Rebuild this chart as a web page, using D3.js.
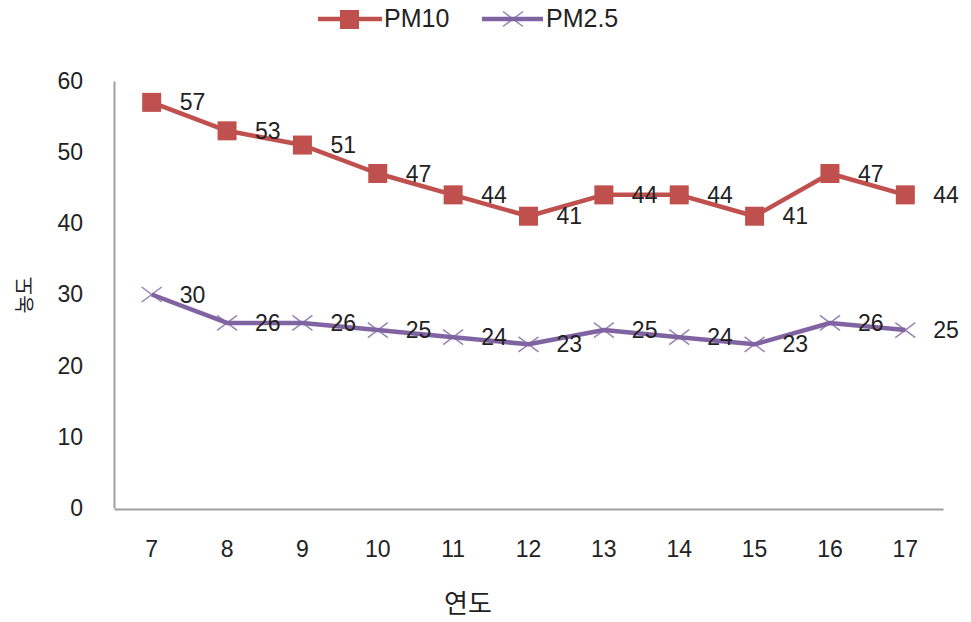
<!DOCTYPE html>
<html><head><meta charset="utf-8">
<script src="https://cdn.jsdelivr.net/npm/d3@7"></script>
<style>body{margin:0;background:#fff}</style>
</head><body>
<svg id="chart" width="971" height="622"></svg>
<script>
const years = ["7","8","9","10","11","12","13","14","15","16","17"];
const pm10 = [57,53,51,47,44,41,44,44,41,47,44];
const pm25 = [30,26,26,25,24,23,25,24,23,26,25];
const yTicks = [0,10,20,30,40,50,60];
const seriesNames = ["PM10","PM2.5"];
const colors = ["#C0504D","#8064A2"];

(function(){
const svg = d3.select("#chart");
const mLeft = 114, mRight = 943, mTop = 81, mBottom = 508;
const FONT = "Liberation Sans, Arial, sans-serif";

const x = d3.scaleBand().domain(years).range([mLeft, mRight]);
const y = d3.scaleLinear().domain([0,60]).range([mBottom, mTop]);
const cx = d => x(d) + x.bandwidth()/2;

// axes
const yAxis = svg.append("g").attr("transform",`translate(${mLeft},0)`)
  .call(d3.axisLeft(y).tickValues(yTicks).tickSize(0).tickPadding(31));
yAxis.select(".domain").attr("stroke","#a0a0a0").attr("stroke-width",2);
yAxis.selectAll("text").attr("font-family",FONT).attr("font-size",23).attr("fill","#222");

const xAxis = svg.append("g").attr("transform",`translate(0,${mBottom+1})`)
  .call(d3.axisBottom(x).tickSize(0).tickPadding(32));
xAxis.select(".domain").attr("stroke","#a0a0a0").attr("stroke-width",2);
xAxis.selectAll("text").attr("font-family",FONT).attr("font-size",23).attr("fill","#222");

// axis titles
svg.append("text").attr("x",468).attr("y",613).attr("text-anchor","middle")
  .attr("font-family","Noto Sans CJK KR, sans-serif").attr("font-size",26).attr("fill","#222").text("연도");
svg.append("text").attr("transform","translate(32,295) rotate(-90)").attr("text-anchor","middle")
  .attr("font-family","Noto Sans CJK KR, sans-serif").attr("font-size",20).attr("fill","#222").text("농도");

const line = d3.line().x((d,i)=>cx(years[i])).y(d=>y(d));

// PM10
svg.append("path").datum(pm10).attr("d",line).attr("fill","none")
  .attr("stroke",colors[0]).attr("stroke-width",4.5).attr("stroke-linejoin","round");
svg.selectAll(".sq").data(pm10).enter().append("rect")
  .attr("x",(d,i)=>cx(years[i])-9.5).attr("y",d=>y(d)-9.5)
  .attr("width",19).attr("height",19).attr("fill",colors[0]);

// PM2.5
svg.append("path").datum(pm25).attr("d",line).attr("fill","none")
  .attr("stroke",colors[1]).attr("stroke-width",4.5).attr("stroke-linejoin","round");
const xs = 10;
svg.selectAll(".xm").data(pm25).enter().append("path")
  .attr("d",(d,i)=>{const px=cx(years[i]), py=y(d);
    return `M${px-xs},${py-xs*0.75}L${px+xs},${py+xs*0.75}M${px-xs},${py+xs*0.75}L${px+xs},${py-xs*0.75}`;})
  .attr("stroke",colors[1]).attr("stroke-width",1.5).attr("fill","none").attr("opacity",0.8);

// labels
[pm10, pm25].forEach(s=>{
  svg.append("g").selectAll("text").data(s).enter().append("text")
    .attr("x",(d,i)=>cx(years[i])+28).attr("y",d=>y(d)+2)
    .attr("dominant-baseline","middle")
    .attr("font-family",FONT).attr("font-size",23).attr("fill","#222")
    .text(d=>d);
});

// legend
const lg = svg.append("g");
lg.append("line").attr("x1",318).attr("x2",382).attr("y1",19).attr("y2",19).attr("stroke",colors[0]).attr("stroke-width",4.5);
lg.append("rect").attr("x",340).attr("y",10).attr("width",19).attr("height",19).attr("fill",colors[0]);
lg.append("text").attr("x",384).attr("y",20).attr("dominant-baseline","middle").attr("font-family",FONT).attr("font-size",25).attr("fill","#222").text(seriesNames[0]);
lg.append("line").attr("x1",482).attr("x2",543).attr("y1",19).attr("y2",19).attr("stroke",colors[1]).attr("stroke-width",4.5);
lg.append("path").attr("d",`M${513-xs},${19-xs*0.75}L${513+xs},${19+xs*0.75}M${513-xs},${19+xs*0.75}L${513+xs},${19-xs*0.75}`)
  .attr("stroke",colors[1]).attr("stroke-width",1.5).attr("opacity",0.8);
lg.append("text").attr("x",546).attr("y",20).attr("dominant-baseline","middle").attr("font-family",FONT).attr("font-size",25).attr("fill","#222").text(seriesNames[1]);
})();
</script>
</body></html>
